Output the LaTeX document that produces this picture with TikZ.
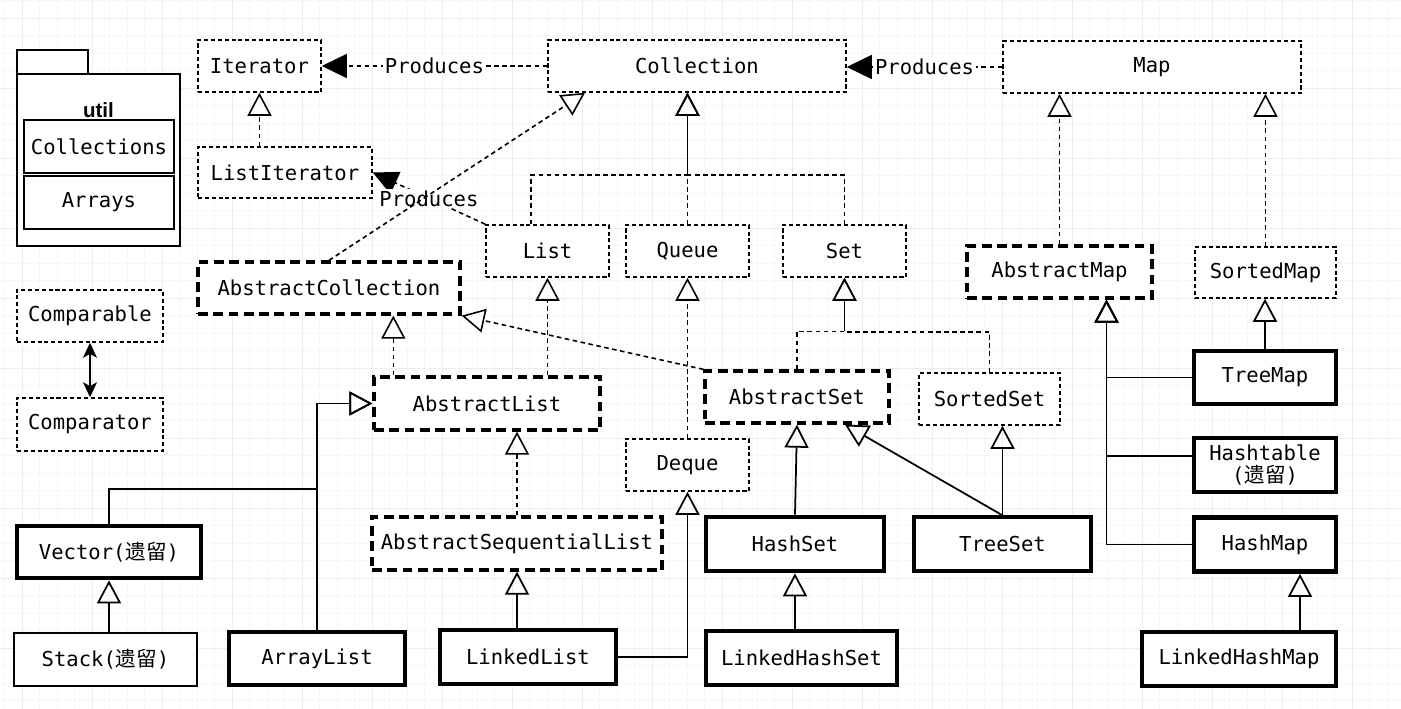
\documentclass[tikz,border=0pt]{standalone}
\usepackage{fontspec}
\newfontfamily\mono{DejaVu Sans Mono}
\newfontfamily\cjk{Noto Sans CJK SC}
\newfontfamily\sansf{Liberation Sans}
\usetikzlibrary{arrows.meta,calc}

\tikzset{
  box/.style 2 args={minimum width=#1*0.02cm, minimum height=#2*0.02cm, inner sep=0pt,
    fill=white, align=center, font=\mono\fontsize{11.7}{13}\selectfont},
  iface/.style={draw, line width=0.9pt, dash pattern=on 2.3pt off 1.6pt},
  abst/.style={draw, line width=1.9pt, dash pattern=on 5.5pt off 3.2pt},
  heavy/.style={draw, line width=2.7pt},
  medium/.style={draw, line width=1.9pt},
  light/.style={draw, line width=1pt},
  pkg/.style={draw, line width=1.1pt},
  realize/.style={line width=0.9pt, dash pattern=on 2.6pt off 2pt,
    -{Triangle[open, length=0.46cm, width=0.48cm]}},
  inherit/.style={line width=1pt, -{Triangle[open, length=0.46cm, width=0.48cm]}},
  prod/.style={line width=0.9pt, dash pattern=on 2.6pt off 2pt,
    -{Triangle[length=0.5cm, width=0.48cm]}},
  both/.style={line width=1.1pt, {Stealth[length=0.3cm, width=0.28cm, inset=0.08cm]}-{Stealth[length=0.3cm, width=0.28cm, inset=0.08cm]}},
  lbl/.style={fill=white, inner sep=1pt, font=\mono\fontsize{11.7}{13}\selectfont},
}

\begin{document}
\begin{tikzpicture}[x=0.02cm, y=-0.02cm]
	\useasboundingbox (0,0) rectangle (1401,709);
	% background grid
	\foreach \x in {4.5,22,...,1401} \draw[gray!6, line width=0.5pt] (\x,0) -- (\x,709);
	\foreach \y in {0.5,18,...,709} \draw[gray!6, line width=0.5pt] (0,\y) -- (1401,\y);
	\foreach \x in {22,92,...,1401} \draw[gray!14, line width=0.5pt] (\x,0) -- (\x,709);
	\foreach \y in {18,88,...,709} \draw[gray!14, line width=0.5pt] (0,\y) -- (1401,\y);

	% util package
	\draw[pkg, fill=white] (17,50) rectangle (88,74);
	\draw[pkg, fill=white] (17,74) rectangle (180,246);
	\node[font=\sansf\bfseries\fontsize{11.7}{14}\selectfont] (util) at (98.5,110) {util};
	\node[pkg, box={150}{53}] (colls) at (99,146.5) {Collections};
	\node[pkg, box={150}{53}] (arrs) at (99,202.5) {Arrays};

	\node[iface, box={146}{52}] (cmpble) at (90,316) {Comparable};
	\node[iface, box={146}{53}] (cmptor) at (90,424.5) {Comparator};

	\node[iface, box={123}{52}] (it) at (259.5,66) {Iterator};
	\node[iface, box={298}{52}] (coll) at (697,66) {Collection};
	\node[iface, box={298}{52}] (map) at (1152,67) {Map};
	\node[iface, box={174}{51}] (li) at (285,172.5) {ListIterator};

	\node[iface, box={123}{52}] (list) at (547.5,251) {List};
	\node[iface, box={123}{52}] (queue) at (687.5,251) {Queue};
	\node[iface, box={123}{52}] (set) at (844.5,251) {Set};
	\node[iface, box={123}{52}] (deque) at (687.5,465) {Deque};
	\node[iface, box={141}{52}] (ss) at (989.5,399) {SortedSet};
	\node[iface, box={141}{51}] (sm) at (1265.5,272.5) {SortedMap};

	\node[abst, box={262}{52}] (ac) at (329,288) {AbstractCollection};
	\node[abst, box={226}{53}] (al) at (487,403.5) {AbstractList};
	\node[abst, box={184}{52}] (as) at (797,397) {AbstractSet};
	\node[abst, box={290}{53}] (asl) at (517,543.5) {AbstractSequentialList};
	\node[abst, box={185}{52}] (am) at (1059.5,272) {AbstractMap};

	\node[heavy, box={184}{52}] (vec) at (109,552) {Vector({\cjk 遗留})};
	\node[light, box={183}{53}] (stack) at (105.5,659.5) {Stack({\cjk 遗留})};
	\node[heavy, box={176}{53}] (alist) at (317,658.5) {ArrayList};
	\node[heavy, box={176}{54}] (ll) at (528,657) {LinkedList};
	\node[heavy, box={178}{54}] (hs) at (795,544) {HashSet};
	\node[medium, box={177}{54}] (ts) at (1002.5,544) {TreeSet};
	\node[medium, box={191}{54}] (lhs) at (801.5,658) {LinkedHashSet};
	\node[medium, box={142}{53}] (tm) at (1265,377.5) {TreeMap};
	\node[medium, box={142}{54}] (ht) at (1265,465) {Hashtable\\({\cjk 遗留})};
	\node[heavy, box={142}{54}] (hm) at (1265,544.5) {HashMap};
	\node[medium, box={194}{54}] (lhm) at (1239,659) {LinkedHashMap};

	\draw[prod] (coll.west) -- node[lbl] (p1) {Produces} (it.east);
	\draw[prod] (map.west) -- node[lbl] (p2) {Produces} (coll.east |- map.west);
	\draw[prod] (list.north west) -- node[lbl] (p3) {Produces} (li.east);

	\draw[both] (cmptor.north) -- (cmpble.south);

	\draw[realize] (li.north -| it.south) -- (it.south);
	\draw[realize] (ac.north) -- ($(coll.south)+(-112,0)$);
	\draw[realize] ($(list.north)+(-16.5,0)$) -- ++(0,-49) -| (coll.south -| queue.north);
	\draw[realize] (queue.north) -- (coll.south -| queue.north);
	\draw[realize] (set.north) -- ++(0,-49) -| (coll.south -| queue.north);

	\draw[realize] ($(al.north west)+(21,0)$) -- ($(ac.south west)+(197,0)$);
	\draw[realize] (al.north -| list.south) -- (list.south);
	\draw[realize] (as.north west) -- (ac.south east);
	\draw[realize] (as.north) -- ++(0,-38) -| (set.south);
	\draw[realize] (ss.north) -- ++(0,-40) -| (set.south);
	\draw[realize] (deque.north) -- (queue.south);
	\draw[realize] (asl.north) -- (al.south -| asl.north);
	\draw[realize] (am.north) -- (map.south -| am.north);
	\draw[realize] (sm.north) -- (map.south -| sm.north);

	\draw[inherit] (alist.north) |- (al.west);
	\draw[inherit] (vec.north) |- ($(alist.north)+(0,-141)$) |- (al.west);
	\draw[inherit] (stack.north -| vec.south) -- (vec.south);
	\draw[inherit] (ll.north -| asl.south) -- (asl.south);
	\draw[inherit] (ll.east) -| (deque.south);
	\draw[inherit] (hs.north) -- (as.south);
	\draw[inherit] (ts.north) -- ($(as.south)+(48,0)$);
	\draw[inherit] (ts.north) -- (ss.south -| ts.north);
	\draw[inherit] (lhs.north -| hs.south) -- (hs.south);
	\draw[inherit] (tm.north) -- (sm.south -| tm.north);
	\draw[inherit] (tm.west) -| ($(am.south)+(47,0)$);
	\draw[inherit] ($(ht.west)+(0,-9)$) -| ($(am.south)+(47,0)$);
	\draw[inherit] (hm.west) -| ($(am.south)+(47,0)$);
	\draw[inherit] ($(lhm.north)+(61,0)$) coordinate (lj) -- (hm.south -| lj);

\end{tikzpicture}
\end{document}
